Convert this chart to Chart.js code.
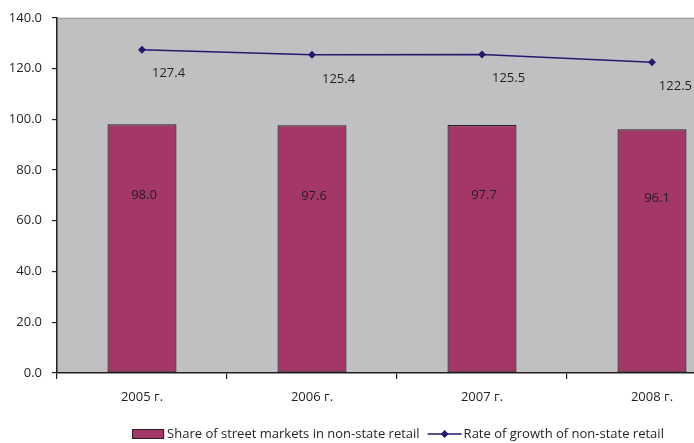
<!DOCTYPE html>
<html><head><meta charset="utf-8">
<script src="https://cdn.jsdelivr.net/npm/chart.js@4/dist/chart.umd.min.js"></script>
<style>
html,body{margin:0;padding:0;background:#fff;overflow:hidden;}
#wrap{width:694px;height:443px;overflow:hidden;position:relative;}
canvas{display:block;}
</style></head><body>
<div id="wrap"><canvas id="c" width="800" height="443"></canvas></div>
<script>
const categories = ["2005 г.", "2006 г.", "2007 г.", "2008 г."];
const shareStreetMarkets = [98.0, 97.6, 97.7, 96.1];
const growthRate = [127.4, 125.4, 125.5, 122.5];
const yTicks = [0, 20, 40, 60, 80, 100, 120, 140];
const seriesNames = ["Share of street markets in non-state retail", "Rate of growth of non-state retail"];

const FONT = "'Open Sans', sans-serif";
const TXT = "#231f20";
const BAR = "#a33767";
const LINE = "#231a6e";
const VISIBLE_RIGHT = 692;

const bgPlugin = {
  id: 'bg',
  beforeDraw(chart) {
    const {ctx, chartArea: a} = chart;
    ctx.save();
    ctx.fillStyle = '#c0c0c2';
    ctx.fillRect(a.left, a.top, a.right - a.left, a.bottom - a.top);
    ctx.strokeStyle = '#9a9a9a';
    ctx.lineWidth = 1;
    ctx.beginPath();
    ctx.moveTo(a.left, a.top + 0.5);
    ctx.lineTo(a.right, a.top + 0.5);
    ctx.stroke();
    ctx.restore();
  }
};

const labelPlugin = {
  id: 'labels',
  afterDatasetsDraw(chart) {
    const {ctx} = chart;
    const y = chart.scales.y;
    ctx.save();
    ctx.font = "13px " + FONT;
    ctx.fillStyle = TXT;
    const bm = chart.getDatasetMeta(0);
    bm.data.forEach((el, i) => {
      const v = shareStreetMarkets[i];
      ctx.textAlign = 'center';
      ctx.textBaseline = 'middle';
      const dx = i === bm.data.length - 1 ? 5 : 2;
      ctx.fillText(v.toFixed(1), el.x + dx, y.getPixelForValue(v * 0.715));
    });
    const lm = chart.getDatasetMeta(1);
    lm.data.forEach((el, i) => {
      const v = growthRate[i];
      const t = v.toFixed(1);
      const w = ctx.measureText(t).width;
      ctx.textAlign = 'left';
      ctx.textBaseline = 'middle';
      ctx.fillText(t, Math.min(el.x + 10, VISIBLE_RIGHT - w), el.y + 24);
    });
    ctx.restore();
  },
  afterDraw(chart) {
    const {ctx} = chart;
    ctx.save();
    ctx.font = "13px " + FONT;
    ctx.textBaseline = 'middle';
    ctx.textAlign = 'left';
    const ly = 434;
    const w1 = ctx.measureText(seriesNames[0]).width;
    const w2 = ctx.measureText(seriesNames[1]).width;
    const total = 32 + 3 + w1 + 8 + 34 + 2 + w2;
    const a = chart.chartArea;
    let x = (a.left + a.right) / 2 - total / 2 + 1;
    ctx.fillStyle = BAR;
    ctx.strokeStyle = TXT;
    ctx.lineWidth = 1;
    ctx.fillRect(x, ly - 4.5, 32, 9);
    ctx.strokeRect(x + 0.5, ly - 4.5, 31, 9);
    x += 35;
    ctx.fillStyle = TXT;
    ctx.fillText(seriesNames[0], x, ly);
    x += w1 + 8;
    ctx.strokeStyle = LINE;
    ctx.lineWidth = 1.5;
    ctx.beginPath();
    ctx.moveTo(x, ly); ctx.lineTo(x + 34, ly); ctx.stroke();
    ctx.fillStyle = LINE;
    ctx.beginPath();
    const cx = x + 17;
    ctx.moveTo(cx, ly - 4); ctx.lineTo(cx + 4, ly); ctx.lineTo(cx, ly + 4); ctx.lineTo(cx - 4, ly); ctx.closePath(); ctx.fill();
    x += 36;
    ctx.fillStyle = TXT;
    ctx.fillText(seriesNames[1], x, ly);
    ctx.restore();
  }
};

new Chart(document.getElementById('c'), {
  type: 'bar',
  data: {
    labels: categories,
    datasets: [
      {
        type: 'bar',
        label: seriesNames[0],
        data: shareStreetMarkets,
        backgroundColor: BAR,
        borderColor: '#262223',
        borderWidth: 1.2,
        borderSkipped: false,
        barPercentage: 0.406,
        categoryPercentage: 1,
        order: 2
      },
      {
        type: 'line',
        label: seriesNames[1],
        data: growthRate,
        borderColor: LINE,
        backgroundColor: LINE,
        borderWidth: 1.5,
        pointStyle: 'rectRot',
        pointRadius: 4,
        pointBorderWidth: 0,
        tension: 0,
        order: 1
      }
    ]
  },
  options: {
    responsive: false,
    animation: false,
    devicePixelRatio: 1,
    layout: { padding: { left: 0, top: 16, right: 63, bottom: 0 } },
    plugins: { legend: { display: false }, tooltip: { enabled: false } },
    scales: {
      x: {
        grid: { display: true, drawOnChartArea: false, offset: true, tickLength: 6, tickColor: TXT, lineWidth: 1.2 },
        border: { color: TXT, width: 1.5 },
        ticks: { color: TXT, font: { family: FONT, size: 13 }, padding: 10 },
        afterFit(s) { s.height = 70; }
      },
      y: {
        min: 0, max: 140,
        afterBuildTicks(s) { s.ticks = yTicks.map(v => ({ value: v })); },
        grid: { display: true, drawOnChartArea: false, tickLength: 5, tickColor: TXT, lineWidth: 1.2 },
        border: { color: TXT, width: 1.5 },
        ticks: { color: TXT, font: { family: FONT, size: 13 }, padding: 10, callback: v => Number(v).toFixed(1) },
        afterFit(s) { s.width = 57; }
      }
    }
  },
  plugins: [bgPlugin, labelPlugin]
});
</script>
</body></html>
